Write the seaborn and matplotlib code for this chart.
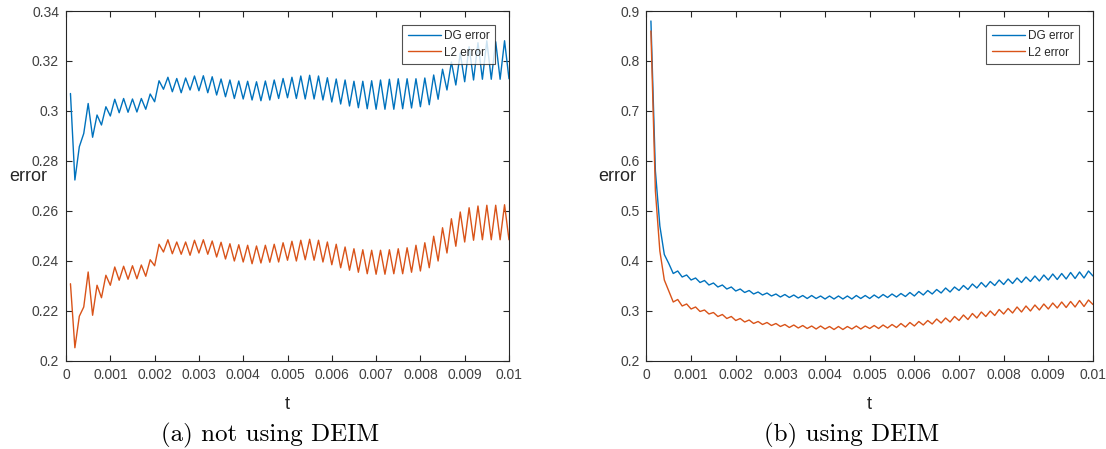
import numpy as np
import matplotlib
matplotlib.use("Agg")
import matplotlib.pyplot as plt
import seaborn as sns
from matplotlib.ticker import FuncFormatter

# time grid (t = 0.0001 ... 0.01)
t = np.round(np.arange(1, 101) * 1e-4, 4)

# (a) not using DEIM
dg_a = [0.307, 0.2724, 0.2857, 0.291, 0.303, 0.2895, 0.2984, 0.2944, 0.3017, 0.298,
        0.3047, 0.2993, 0.305, 0.2995, 0.3048, 0.2996, 0.305, 0.3007, 0.3068, 0.3037,
        0.3121, 0.3087, 0.3135, 0.3077, 0.313, 0.3073, 0.3132, 0.3084, 0.314, 0.3081,
        0.3141, 0.3073, 0.3137, 0.3064, 0.3128, 0.3057, 0.3124, 0.305, 0.312, 0.3048,
        0.3119, 0.3044, 0.3117, 0.3041, 0.312, 0.3044, 0.3124, 0.305, 0.313, 0.3053,
        0.3135, 0.305, 0.314, 0.3048, 0.3143, 0.3048, 0.314, 0.3044, 0.3133, 0.3036,
        0.3128, 0.3028, 0.3124, 0.302, 0.3119, 0.3013, 0.3119, 0.3009, 0.3121, 0.3007,
        0.3124, 0.3007, 0.3127, 0.3007, 0.3129, 0.3009, 0.3129, 0.3012, 0.3129, 0.3017,
        0.3132, 0.3025, 0.3144, 0.3047, 0.3167, 0.3084, 0.3196, 0.3104, 0.3231, 0.3117,
        0.3257, 0.3124, 0.3273, 0.3127, 0.3281, 0.3127, 0.3277, 0.3127, 0.3281, 0.3129]
l2_a = [0.2309, 0.2053, 0.2179, 0.2216, 0.2356, 0.2183, 0.2303, 0.2253, 0.2343, 0.2303,
        0.2376, 0.2323, 0.2379, 0.2327, 0.2381, 0.2329, 0.2384, 0.2339, 0.2405, 0.2381,
        0.2467, 0.2436, 0.2485, 0.2429, 0.2476, 0.2427, 0.2476, 0.2423, 0.2483, 0.2432,
        0.2485, 0.2427, 0.248, 0.2416, 0.2475, 0.2408, 0.2469, 0.24, 0.2465, 0.2396,
        0.2463, 0.2389, 0.246, 0.2392, 0.2463, 0.2395, 0.2467, 0.2396, 0.2473, 0.2403,
        0.2479, 0.24, 0.2483, 0.2405, 0.2487, 0.2403, 0.2483, 0.2396, 0.2476, 0.2385,
        0.2467, 0.2373, 0.2456, 0.2363, 0.2449, 0.2355, 0.2445, 0.2349, 0.2443, 0.2347,
        0.2443, 0.2347, 0.2445, 0.2349, 0.2449, 0.2349, 0.2453, 0.2355, 0.2463, 0.236,
        0.2473, 0.2373, 0.2499, 0.24, 0.2533, 0.2432, 0.2569, 0.2459, 0.2596, 0.2476,
        0.2613, 0.2483, 0.262, 0.2485, 0.2623, 0.2485, 0.2623, 0.2485, 0.2625, 0.2485]

# (b) using DEIM
dg_b = [0.880, 0.580, 0.470, 0.413, 0.395, 0.375, 0.380, 0.368, 0.372, 0.362,
        0.366, 0.357, 0.361, 0.352, 0.356, 0.348, 0.352, 0.344, 0.348, 0.340,
        0.344, 0.337, 0.341, 0.334, 0.338, 0.332, 0.336, 0.330, 0.334, 0.328,
        0.333, 0.327, 0.332, 0.326, 0.331, 0.325, 0.331, 0.325, 0.330, 0.324,
        0.330, 0.324, 0.330, 0.324, 0.330, 0.324, 0.331, 0.325, 0.331, 0.325,
        0.332, 0.326, 0.333, 0.327, 0.334, 0.328, 0.335, 0.329, 0.337, 0.330,
        0.339, 0.332, 0.341, 0.334, 0.343, 0.336, 0.346, 0.338, 0.348, 0.341,
        0.351, 0.343, 0.354, 0.346, 0.357, 0.348, 0.359, 0.351, 0.362, 0.353,
        0.364, 0.355, 0.366, 0.357, 0.368, 0.359, 0.370, 0.360, 0.372, 0.362,
        0.374, 0.363, 0.375, 0.364, 0.377, 0.365, 0.378, 0.366, 0.380, 0.370]
l2_b = [0.860, 0.540, 0.420, 0.362, 0.340, 0.318, 0.323, 0.310, 0.314, 0.304,
        0.308, 0.299, 0.302, 0.294, 0.297, 0.289, 0.293, 0.285, 0.289, 0.281,
        0.285, 0.278, 0.282, 0.275, 0.279, 0.273, 0.277, 0.271, 0.275, 0.269,
        0.273, 0.267, 0.272, 0.266, 0.271, 0.265, 0.270, 0.264, 0.270, 0.264,
        0.269, 0.263, 0.269, 0.263, 0.269, 0.264, 0.270, 0.264, 0.270, 0.265,
        0.271, 0.265, 0.272, 0.266, 0.273, 0.267, 0.275, 0.268, 0.277, 0.270,
        0.279, 0.272, 0.281, 0.274, 0.284, 0.276, 0.286, 0.278, 0.289, 0.281,
        0.292, 0.283, 0.295, 0.286, 0.298, 0.289, 0.300, 0.291, 0.303, 0.294,
        0.305, 0.296, 0.308, 0.298, 0.310, 0.300, 0.312, 0.302, 0.314, 0.304,
        0.316, 0.306, 0.318, 0.307, 0.319, 0.308, 0.321, 0.309, 0.322, 0.313]

x_ticks = [0, 0.001, 0.002, 0.003, 0.004, 0.005, 0.006, 0.007, 0.008, 0.009, 0.01]
y_ticks_a = [0.2, 0.22, 0.24, 0.26, 0.28, 0.3, 0.32, 0.34]
y_ticks_b = [0.2, 0.3, 0.4, 0.5, 0.6, 0.7, 0.8, 0.9]
captions = ["(a) not using DEIM", "(b) using DEIM"]

BLUE = "#0072BD"
ORANGE = "#D95319"
AXC = "#262626"
TXT = "#404040"

sns.set_theme(style="ticks")
plt.rcParams["font.family"] = ["Liberation Sans", "DejaVu Sans"]

fig = plt.figure(figsize=(11.06, 4.49), dpi=100)
ax_a = fig.add_axes([0.0597, 0.196, 0.4005, 0.7795])
ax_b = fig.add_axes([0.5845, 0.196, 0.4037, 0.7795])

panels = [
    (ax_a, dg_a, l2_a, y_ticks_a, (0.2, 0.34), -0.086, 0.46, captions[0]),
    (ax_b, dg_b, l2_b, y_ticks_b, (0.2, 0.9), -0.066, 0.46, captions[1]),
]

fmt = FuncFormatter(lambda v, p: f"{v:g}")

for ax, dg, l2, yt, ylim, ylab_x, cap_x, cap in panels:
    sns.lineplot(x=t, y=dg, ax=ax, color=BLUE, lw=1.0, label="DG error")
    sns.lineplot(x=t, y=l2, ax=ax, color=ORANGE, lw=1.0, label="L2 error")
    ax.set_xlim(0, 0.01)
    ax.set_ylim(*ylim)
    ax.set_xticks(x_ticks)
    ax.set_yticks(yt)
    ax.xaxis.set_major_formatter(fmt)
    ax.yaxis.set_major_formatter(fmt)
    ax.tick_params(direction="in", length=4, width=0.8, color=AXC,
                   top=True, right=True, labelsize=10, labelcolor=TXT, pad=5)
    for s in ax.spines.values():
        s.set_color(AXC)
        s.set_linewidth(0.8)
    ax.set_xlabel("t", fontsize=13, color=AXC)
    ax.xaxis.set_label_coords(0.5, -0.1)
    ax.set_ylabel("error", fontsize=13, color=AXC, rotation=0,
                  ha="center", va="center")
    ax.yaxis.set_label_coords(ylab_x, 0.528)
    leg = ax.legend(loc="upper right", fontsize=8.5, handlelength=2.8,
                    frameon=True, fancybox=False, edgecolor=AXC,
                    borderaxespad=1.15, borderpad=0.45, labelspacing=0.4,
                    handletextpad=0.3)
    leg.get_frame().set_linewidth(0.8)
    ax.text(cap_x, -0.214, cap, transform=ax.transAxes, ha="center", va="center",
            fontsize=18, family="cmr10", color="black")

fig.savefig("out.png", dpi=100)
